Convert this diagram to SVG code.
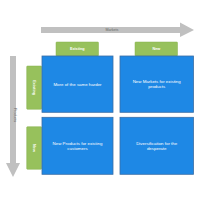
<svg xmlns="http://www.w3.org/2000/svg" width="200" height="200" viewBox="0 0 200 200">
<style>
.q{fill:#1e88e5;stroke:#3a6ea5;stroke-width:0.8}
.g{fill:#97c15c;stroke:#86b04c;stroke-width:0.5}
.t{font-family:"Liberation Sans",Arial,sans-serif;font-size:4.4px;fill:#ffffff;text-anchor:middle}
.lt{font-family:"Liberation Sans",Arial,sans-serif;font-size:3.8px;fill:#ffffff;text-anchor:middle;font-weight:bold}
.at{font-family:"Liberation Sans",Arial,sans-serif;font-size:3.6px;fill:#666666;text-anchor:middle}
.ar{fill:#c0c0c0}
</style>
<rect width="200" height="200" fill="#ffffff"/>
<g id="connectors">
<g id="markets-arrow">
<polygon class="ar" points="41,27 180,27 180,22.5 194,30 180,37 180,33 41,33"/>
<text class="at" x="112" y="31.3">Markets</text>
</g>
<g id="products-arrow">
<polygon class="ar" points="10,56 16,56 16,163 20,163 13,177 6,163 10,163"/>
<text class="at" transform="translate(14.3,115) rotate(90)" x="0" y="0">Products</text>
</g>
</g>
<g id="existing-top"><rect class="g" x="56" y="42" width="42.5" height="14" rx="0.8"/><text class="lt" x="77.3" y="50.3">Existing</text></g>
<g id="new-top"><rect class="g" x="135" y="42" width="42.5" height="14" rx="0.8"/><text class="lt" x="156.3" y="50.3">New</text></g>
<g id="existing-left"><rect class="g" x="26.7" y="66" width="15" height="43.3" rx="0.8"/><text class="lt" transform="translate(34.2,87.7) rotate(90)" x="0" y="1.3">Existing</text></g>
<g id="new-left"><rect class="g" x="26.7" y="126.7" width="15" height="42.6" rx="0.8"/><text class="lt" transform="translate(34.2,148) rotate(90)" x="0" y="1.3">New</text></g>
<g id="q1"><rect class="q" x="42" y="56" width="71" height="56.3"/><text class="t" x="77.5" y="85.5">More of the same harder</text></g>
<g id="q2"><rect class="q" x="120" y="56" width="73.5" height="56.3"/><text class="t" x="156.7" y="82.5">New Markets for existing</text><text class="t" x="156.7" y="87.8">products</text></g>
<g id="q3"><rect class="q" x="42" y="117.3" width="71" height="57"/><text class="t" x="77.5" y="145">New Products for existing</text><text class="t" x="77.5" y="150.3">customers</text></g>
<g id="q4"><rect class="q" x="120" y="117.3" width="73.5" height="57"/><text class="t" x="156.7" y="145">Diversification for the</text><text class="t" x="156.7" y="150.3">desperate</text></g>
</svg>
